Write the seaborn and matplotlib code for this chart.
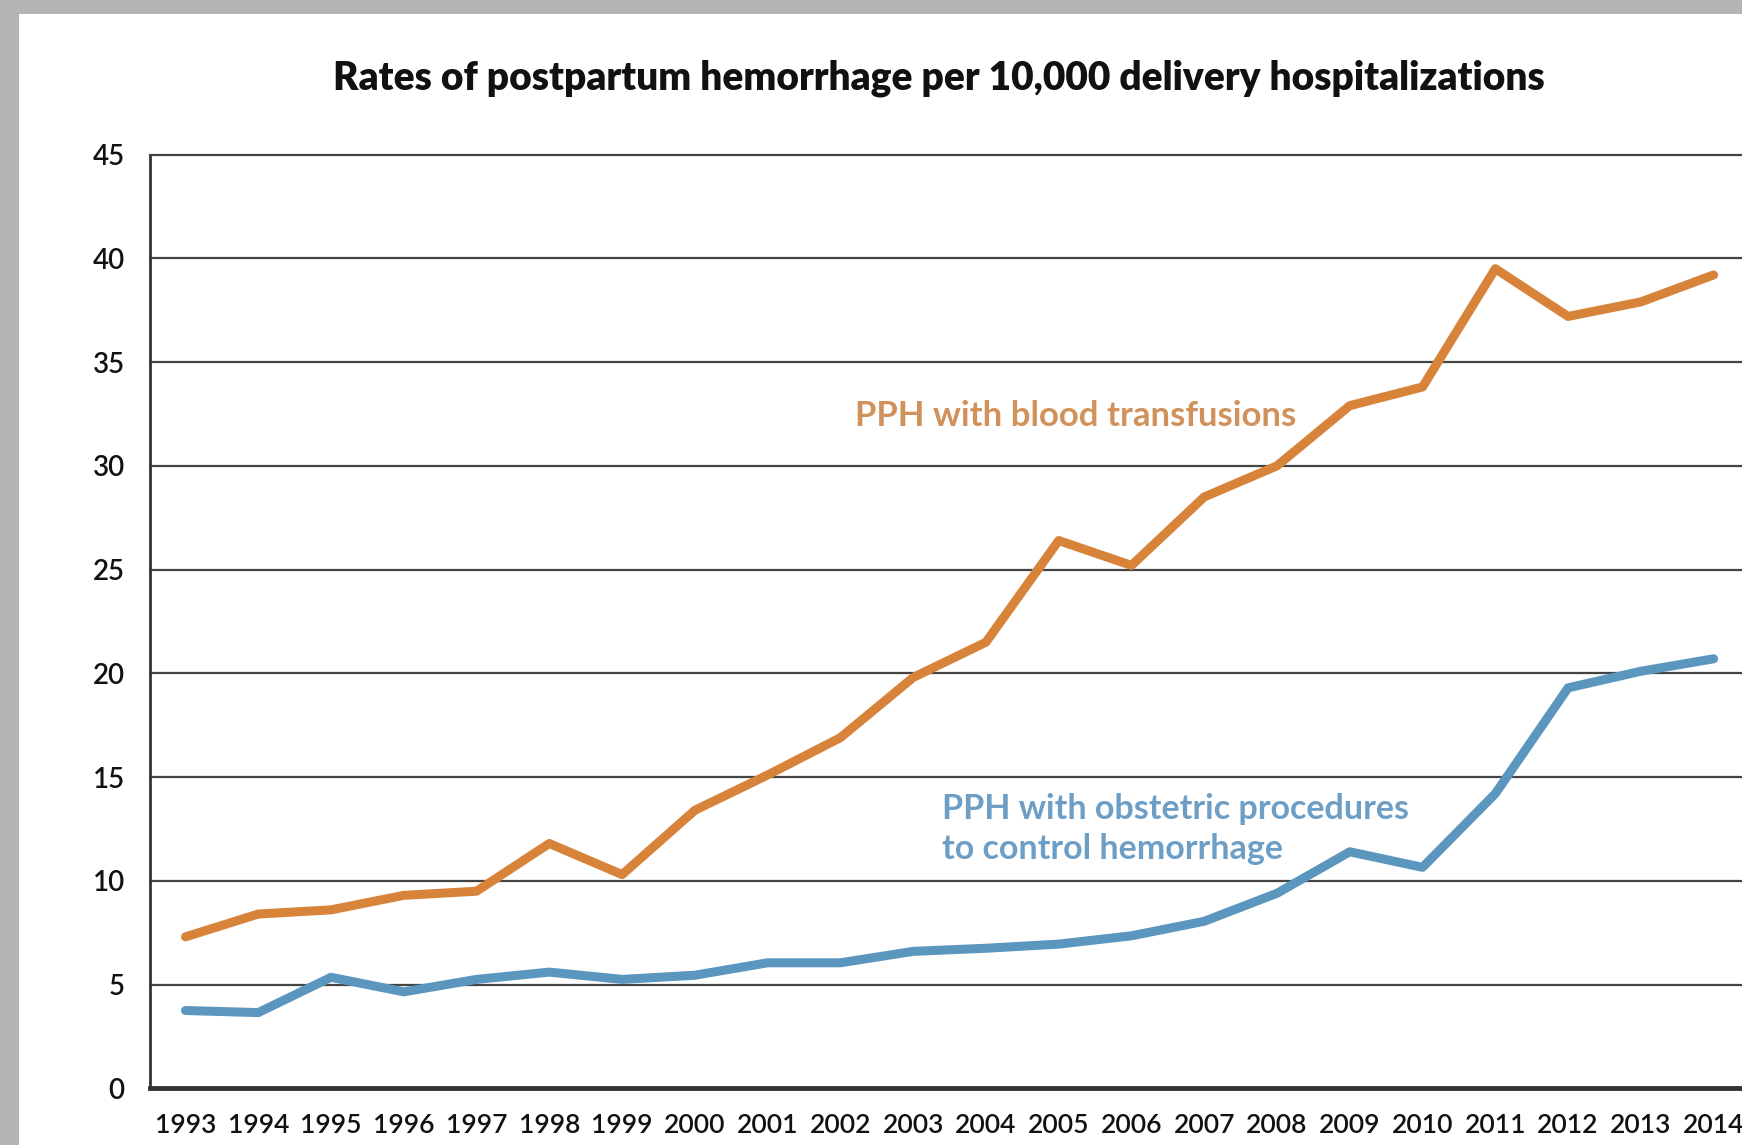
import numpy as np
import pandas as pd
import matplotlib
matplotlib.use("Agg")
import matplotlib.pyplot as plt
import seaborn as sns

# values (rate per 10,000 delivery hospitalizations)
years = list(range(1993, 2015))
transfusion = [7.3, 8.4, 8.6, 9.3, 9.5, 11.8, 10.3, 13.4, 15.1, 16.9, 19.8,
               21.5, 26.4, 25.2, 28.5, 30.0, 32.9, 33.8, 39.5, 37.2, 37.9, 39.2]
procedures = [3.75, 3.65, 5.35, 4.65, 5.25, 5.6, 5.25, 5.45, 6.05, 6.05, 6.6,
              6.75, 6.95, 7.35, 8.05, 9.4, 11.4, 10.65, 14.2, 19.3, 20.1, 20.7]
y_ticks = [0, 5, 10, 15, 20, 25, 30, 35, 40, 45]

df = pd.DataFrame({
    "year": years * 2,
    "rate": transfusion + procedures,
    "series": ["transfusion"] * len(years) + ["procedures"] * len(years),
})

sns.set_theme(style="white")
plt.rcParams['font.family'] = ['Lato', 'DejaVu Sans']

orange = "#d8833a"
blue = "#5b96bf"

fig = plt.figure(figsize=(17.42, 11.45), dpi=100, facecolor="#b5b5b5")
# white page with gray border on top/left
page = plt.Rectangle((0.011, 0), 1.0, 0.988, transform=fig.transFigure,
                     facecolor="white", edgecolor="none", zorder=-5)
fig.patches.append(page)

ax = fig.add_axes([0.086, 0.0495, 0.914, 0.8155])
ax.set_facecolor("white")

sns.lineplot(data=df, x="year", y="rate", hue="series",
             palette={"transfusion": orange, "procedures": blue},
             linewidth=6.5, legend=False, ax=ax, zorder=3)

ax.set_xlim(1992.51, 2014.39)
ax.set_ylim(0, 45)
ax.set_yticks(y_ticks)
ax.set_xticks(years)
ax.set_xticklabels([str(y) for y in years])

for t in y_ticks[1:-1]:
    ax.axhline(t, color="#444444", linewidth=1.6, zorder=1)

ax.spines["right"].set_visible(False)
ax.spines["top"].set_color("#444444")
ax.spines["top"].set_linewidth(1.6)
ax.spines["left"].set_color("#333333")
ax.spines["left"].set_linewidth(2)
ax.spines["bottom"].set_color("#333333")
ax.spines["bottom"].set_linewidth(3.5)

ax.tick_params(axis="both", length=0, labelsize=19, colors="#111111")
ax.tick_params(axis="x", pad=18)
ax.tick_params(axis="y", labelsize=20, pad=18)
for lab in ax.get_xticklabels() + ax.get_yticklabels():
    lab.set_fontweight("semibold")
ax.set_xlabel("")
ax.set_ylabel("")

ax.text(2002.2, 32.4, "PPH with blood transfusions", color="#d1915a",
        fontsize=25, fontweight="bold", va="center", ha="left")
ax.text(2003.4, 12.5, "PPH with obstetric procedures\nto control hemorrhage",
        color="#6d9ec6", fontsize=24.5, fontweight="bold", va="center", ha="left",
        linespacing=1.3)

fig.text(0.539, 0.932, "Rates of postpartum hemorrhage per 10,000 delivery hospitalizations",
         ha="center", va="center", fontsize=28, fontweight="heavy", color="#111111")

fig.savefig("out.png", dpi=100, facecolor=fig.get_facecolor())
